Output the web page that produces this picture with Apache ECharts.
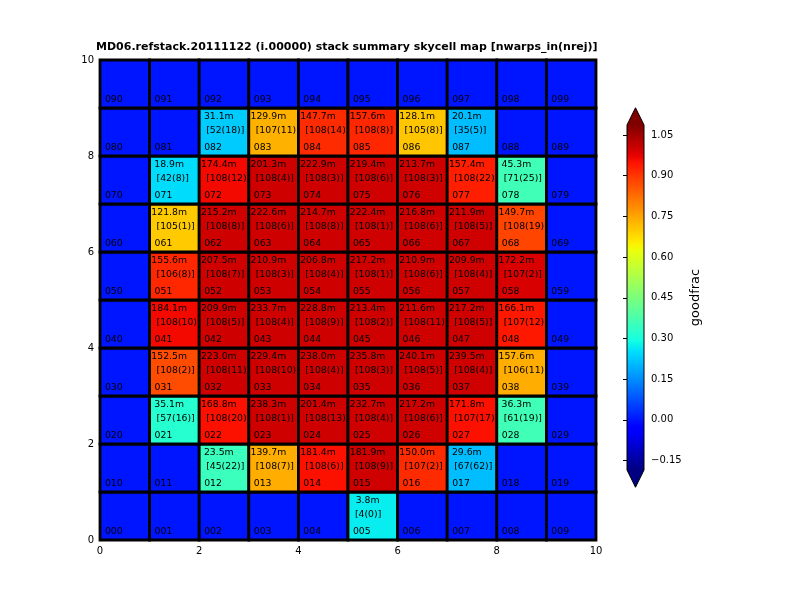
<!DOCTYPE html>
<html>
<head>
<meta charset="utf-8">
<script src="https://cdn.jsdelivr.net/npm/echarts@6/dist/echarts.min.js"></script>
<style>html,body{margin:0;padding:0;background:#fff}#c{width:800px;height:600px}</style>
</head>
<body>
<div id="c"></div>
<script>
// ---- data (rows bottom -> top, columns left -> right) ----
const cols = [0,1,2,3,4,5,6,7,8,9];
const rows = [0,1,2,3,4,5,6,7,8,9];
const colorbarTicks = [-0.15, 0, 0.15, 0.3, 0.45, 0.6, 0.75, 0.9, 1.05];
const xTicks = [0, 2, 4, 6, 8, 10];
const goodfrac = [
  [0,0,0,0,0,0.27,0,0,0,0],
  [0,0,0.35,0.74,0.95,1.0,0.915,0.21,0,0],
  [0,0.32,0.95,1.0,1.0,1.0,1.0,0.95,0.36,0],
  [0,0.87,1.0,1.0,1.0,1.0,1.0,1.0,0.74,0],
  [0,0.96,1.0,1.0,1.0,1.0,1.0,1.0,0.94,0],
  [0,0.92,1.0,1.0,1.0,1.0,1.0,1.0,0.99,0],
  [0,0.70,1.0,1.0,1.0,1.0,1.0,1.0,0.88,0],
  [0,0.25,0.96,1.0,1.0,1.0,1.0,0.93,0.36,0],
  [0,0,0.228,0.735,0.915,0.92,0.706,0.21,0,0],
  [0,0,0,0,0,0,0,0,0,0]
];
const area = [
  [null,null,null,null,null,3.8,null,null,null,null],
  [null,null,23.5,139.7,181.4,181.9,150.0,29.6,null,null],
  [null,35.1,168.8,238.3,201.4,232.7,217.2,171.8,36.3,null],
  [null,152.5,223.0,229.4,238.0,235.8,240.1,239.5,157.6,null],
  [null,184.1,209.9,233.7,228.8,213.4,211.6,217.2,166.1,null],
  [null,155.6,207.5,210.9,206.8,217.2,210.9,209.9,172.2,null],
  [null,121.8,215.2,222.6,214.7,222.4,216.8,211.9,149.7,null],
  [null,18.9,174.4,201.3,222.9,219.4,213.7,157.4,45.3,null],
  [null,null,31.1,129.9,147.7,157.6,128.1,20.1,null,null],
  [null,null,null,null,null,null,null,null,null,null]
];
const nwarpsIn = [
  [null,null,null,null,null,4,null,null,null,null],
  [null,null,45,108,108,108,107,67,null,null],
  [null,57,108,108,108,108,108,107,61,null],
  [null,108,108,108,108,108,108,108,106,null],
  [null,108,108,108,108,108,108,108,107,null],
  [null,106,108,108,108,108,108,108,107,null],
  [null,105,108,108,108,108,108,108,108,null],
  [null,42,108,108,108,108,108,108,71,null],
  [null,null,52,107,108,108,105,35,null,null],
  [null,null,null,null,null,null,null,null,null,null]
];
const nrej = [
  [null,null,null,null,null,0,null,null,null,null],
  [null,null,22,7,6,9,2,62,null,null],
  [null,16,20,1,13,4,6,17,19,null],
  [null,2,11,10,4,3,5,4,11,null],
  [null,10,5,4,9,2,11,5,12,null],
  [null,8,7,3,4,1,6,4,2,null],
  [null,1,8,6,8,1,6,5,19,null],
  [null,8,12,4,3,6,3,22,25,null],
  [null,null,18,11,14,8,8,5,null,null],
  [null,null,null,null,null,null,null,null,null,null]
];
const VMIN = -0.185, VMAX = 1.087;

// ---- jet colormap (styling) ----
const JET = {
  r: [[0,0],[0.35,0],[0.66,1],[0.89,1],[1,0.5]],
  g: [[0,0],[0.125,0],[0.375,1],[0.64,1],[0.91,0],[1,0]],
  b: [[0,0.5],[0.11,1],[0.34,1],[0.65,0],[1,0]]
};
function seg(s, f){
  for (let i=0;i<s.length-1;i++){
    if (f <= s[i+1][0]) {
      const t = (f - s[i][0])/(s[i+1][0]-s[i][0]);
      return s[i][1] + t*(s[i+1][1]-s[i][1]);
    }
  }
  return s[s.length-1][1];
}
function jet(f){
  f = Math.max(0, Math.min(1, f));
  const c = v => Math.round(v*255);
  return 'rgb(' + c(seg(JET.r,f)) + ',' + c(seg(JET.g,f)) + ',' + c(seg(JET.b,f)) + ')';
}
const jetColors = [];
for (let i=0;i<=64;i++) jetColors.push(jet(i/64));

// ---- build series data ----
const cells = [];
rows.forEach(r => cols.forEach(c => {
  cells.push([c, r, goodfrac[r][c], '0' + r + c, area[r][c], nwarpsIn[r][c], nrej[r][c]]);
}));

const FONT = 'DejaVu Sans';
function renderCell(params, api){
  const x = api.value(0), y = api.value(1);
  const p0 = api.coord([x, y+1]);
  const p1 = api.coord([x+1, y]);
  const d = cells[params.dataIndex];
  const children = [{
    type: 'rect',
    shape: {x: p0[0], y: p0[1], width: p1[0]-p0[0], height: p1[1]-p0[1]},
    style: {fill: api.visual('color'), stroke: '#000', lineWidth: 2.8}
  }];
  const txt = (pos, s) => ({
    type: 'text',
    style: {x: pos[0], y: pos[1], text: s, fill: '#000', font: '9.3px "' + FONT + '"',
            align: 'left', verticalAlign: 'middle'}
  });
  if (d[4] !== null) {
    const s1 = (d[4].toFixed(1) + 'm').padStart(6, ' ');
    children.push(txt(api.coord([x+0.035, y+0.83]), s1));
    children.push(txt(api.coord([x+0.14, y+0.525]), '[' + d[5] + '(' + d[6] + ')]'));
  }
  children.push(txt(api.coord([x+0.1, y+0.18]), d[3]));
  return {type: 'group', children: children};
}

function renderColorbar(params, api){
  const a = api.coord([0, VMAX]);
  const b = api.coord([1, VMIN]);
  const x0 = a[0], x1 = b[0], yT = a[1], yB = b[1];
  const ah = 0.05*(yB - yT);
  const xm = (x0 + x1)/2;
  const stops = [];
  for (let i=0;i<=64;i++) stops.push({offset: i/64, color: jet(1 - i/64)});
  return {type: 'group', children: [
    {type: 'rect', shape: {x: x0, y: yT, width: x1-x0, height: yB-yT},
     style: {fill: new echarts.graphic.LinearGradient(0,0,0,1,stops)}},
    {type: 'polygon', shape: {points: [[x0,yT],[x1,yT],[xm,yT-ah]]}, style: {fill: jet(1)}},
    {type: 'polygon', shape: {points: [[x0,yB],[x1,yB],[xm,yB+ah]]}, style: {fill: jet(0)}},
    {type: 'polygon', shape: {points: [[x0,yT],[xm,yT-ah],[x1,yT],[x1,yB],[xm,yB+ah],[x0,yB]]},
     style: {fill: 'none', stroke: '#000', lineWidth: 1}}
  ]};
}

const chart = echarts.init(document.getElementById('c'), null, {renderer: 'canvas'});
const axisCommon = {
  axisLine: {show: true, lineStyle: {color: '#000', width: 1}},
  axisTick: {show: true, inside: true, length: 4, lineStyle: {color: '#000'}},
  axisLabel: {color: '#000', fontSize: 10, fontFamily: FONT, margin: 6},
  splitLine: {show: false}
};
chart.setOption({
  backgroundColor: '#fff',
  animation: false,
  title: {
    text: 'MD06.refstack.20111122 (i.00000) stack summary skycell map [nwarps_in(nrej)]',
    left: 96, top: 42, padding: 0,
    textStyle: {fontFamily: FONT, fontSize: 11, fontWeight: 'bold', color: '#000'}
  },
  grid: [
    {left: 100, top: 60, width: 496, height: 480},
    {left: 627, top: 125, width: 17, height: 345}
  ],
  xAxis: [
    Object.assign({type: 'value', gridIndex: 0, min: 0, max: 10, interval: 2,
      axisLabel: Object.assign({}, axisCommon.axisLabel, {customValues: xTicks})}, {
      axisLine: axisCommon.axisLine, axisTick: axisCommon.axisTick, splitLine: axisCommon.splitLine}),
    {type: 'value', gridIndex: 1, min: 0, max: 1, show: false}
  ],
  yAxis: [
    Object.assign({type: 'value', gridIndex: 0, min: 0, max: 10, interval: 2,
      axisLabel: Object.assign({}, axisCommon.axisLabel, {customValues: xTicks})}, {
      axisLine: axisCommon.axisLine, axisTick: axisCommon.axisTick, splitLine: axisCommon.splitLine}),
    {type: 'value', gridIndex: 1, min: VMIN, max: VMAX, position: 'right',
     axisLine: {show: false},
     splitLine: {show: false},
     axisTick: {show: true, inside: true, length: 4, customValues: colorbarTicks, lineStyle: {color: '#000'}},
     axisLabel: {show: true, customValues: colorbarTicks, color: '#000', fontSize: 10, fontFamily: FONT, margin: 7,
       formatter: v => (v < 0 ? '\u2212' : '') + Math.abs(v).toFixed(2)},
     name: 'goodfrac', nameLocation: 'middle', nameRotate: 90, nameGap: 45,
     nameTextStyle: {fontFamily: FONT, fontSize: 13, color: '#000'}}
  ],
  visualMap: {
    type: 'continuous', show: false, min: VMIN, max: VMAX, dimension: 2, seriesIndex: 0,
    inRange: {color: jetColors}
  },
  series: [
    {type: 'custom', xAxisIndex: 0, yAxisIndex: 0, data: cells, encode: {x: 0, y: 1},
     renderItem: renderCell, clip: false},
    {type: 'custom', xAxisIndex: 1, yAxisIndex: 1, data: [[0, VMIN], [1, VMAX]], encode: {x: 0, y: 1},
     renderItem: (p, api) => p.dataIndex === 0 ? renderColorbar(p, api) : null, clip: false, silent: true}
  ]
});
</script>
</body>
</html>
